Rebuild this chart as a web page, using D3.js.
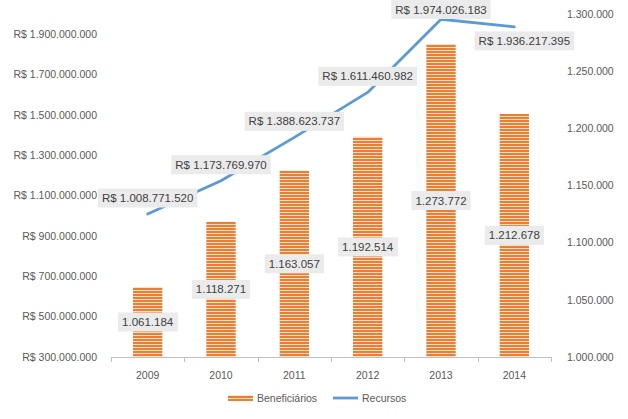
<!DOCTYPE html>
<html><head><meta charset="utf-8">
<script src="https://cdn.jsdelivr.net/npm/d3@7"></script>
<style>body{margin:0;background:#fff}svg{display:block}text{font-family:"Liberation Sans",Arial,sans-serif}</style>
</head><body><svg id="c" width="628" height="419"></svg>
<script>
const years = ["2009","2010","2011","2012","2013","2014"];
const beneficiarios = [1061184, 1118271, 1163057, 1192514, 1273772, 1212678];
const recursos = [1008771520, 1173769970, 1388623737, 1611460982, 1974026183, 1936217395];
const leftTicks = [300000000,500000000,700000000,900000000,1100000000,1300000000,1500000000,1700000000,1900000000];
const rightTicks = [1000000,1050000,1100000,1150000,1200000,1250000,1300000];
const seriesNames = ["Beneficiários","Recursos"];

const svg = d3.select("#c");
const W=628,H=419, L=111, R=551, T=14, B=357;
const orange="#ED7D31", blue="#5B9BD5", txt="#595959";
const fmt = v => d3.format(",")(v).replace(/,/g,".");

const defs = svg.append("defs");
const pat = defs.append("pattern").attr("id","stripes").attr("patternUnits","userSpaceOnUse").attr("width",4).attr("height",3);
pat.append("rect").attr("width",4).attr("height",3).attr("fill","#fbe0cc");
pat.append("rect").attr("width",4).attr("height",2).attr("fill",orange);

const x = d3.scaleBand().domain(years).range([L,R]).paddingInner(0.6).paddingOuter(0.3);
const yL = d3.scaleLinear().domain([300000000,2000000000]).range([B,T]);
const yR = d3.scaleLinear().domain([1000000,1300000]).range([B,T]);

// left axis labels
svg.append("g").selectAll("text").data(leftTicks).join("text")
  .attr("x",97).attr("y",d=>yL(d)).attr("dy","0.35em").attr("text-anchor","end")
  .attr("font-size",10.5).attr("fill",txt).text(d=>"R$ "+fmt(d));
// right axis labels
svg.append("g").selectAll("text").data(rightTicks).join("text")
  .attr("x",567).attr("y",d=>yR(d)).attr("dy","0.35em").attr("text-anchor","start")
  .attr("font-size",10.5).attr("fill",txt).text(d=>fmt(d));

// bars
svg.append("g").selectAll("rect").data(beneficiarios).join("rect")
  .attr("x",(d,i)=>x(years[i])).attr("width",x.bandwidth())
  .attr("y",d=>yR(d)).attr("height",d=>B-yR(d)).attr("fill","url(#stripes)");

// x axis
const step = x.step();
const xa = svg.append("g");
xa.append("line").attr("x1",L).attr("x2",R).attr("y1",B+0.5).attr("y2",B+0.5).attr("stroke","#bfbfbf");
const bounds = years.map((y,i)=>x(y)-x.paddingInner()*step/2 - (i===0? (x.paddingOuter()*step - x.paddingInner()*step/2):0));
const bnds = years.map(y=>x(y)+x.bandwidth()/2-step/2).concat([x(years[years.length-1])+x.bandwidth()/2+step/2]);
xa.selectAll("line.t").data(bnds).join("line").attr("class","t")
  .attr("x1",d=>Math.round(d)+0.5).attr("x2",d=>Math.round(d)+0.5).attr("y1",B).attr("y2",B+5).attr("stroke","#bfbfbf");
xa.selectAll("text").data(years).join("text")
  .attr("x",d=>x(d)+x.bandwidth()/2).attr("y",B+22).attr("text-anchor","middle")
  .attr("font-size",10.5).attr("fill",txt).text(d=>d);

// line
const cx = i => x(years[i])+x.bandwidth()/2;
svg.append("path").datum(recursos)
  .attr("d",d3.line().x((d,i)=>cx(i)).y(d=>yL(d)))
  .attr("fill","none").attr("stroke",blue).attr("stroke-width",2.8).attr("stroke-linejoin","round").attr("stroke-linecap","round");

function label(g, cxp, cyp, s){
  const t = g.append("text").attr("x",cxp).attr("y",cyp).attr("dy","0.35em").attr("text-anchor","middle")
    .attr("font-size",11.5).attr("fill","#404040").text(s);
  const bb = t.node().getBBox();
  g.insert("rect","text").attr("x",bb.x-4).attr("y",cyp-9.5).attr("width",bb.width+8).attr("height",19).attr("fill","#ebebeb");
  t.raise();
}
// bar labels
beneficiarios.forEach((d,i)=>{
  const g = svg.append("g");
  label(g, cx(i), (yR(d)+B)/2, fmt(d));
});
// line labels
recursos.forEach((d,i)=>{
  const g = svg.append("g");
  let lx = cx(i), ly = yL(d)-16;
  if(i===recursos.length-1){ lx = cx(i)+10; ly = yL(d)+14; }
  ly = Math.max(ly, 9.5);
  label(g, lx, ly, "R$ "+fmt(d));
});

// legend
const lg = svg.append("g");
lg.append("rect").attr("x",228).attr("y",395).attr("width",25).attr("height",6).attr("fill","url(#stripes)");
lg.append("text").attr("x",257).attr("y",398).attr("dy","0.35em").attr("font-size",10.5).attr("fill",txt).text(seriesNames[0]);
lg.append("line").attr("x1",333).attr("x2",358).attr("y1",398).attr("y2",398).attr("stroke",blue).attr("stroke-width",2.8);
lg.append("text").attr("x",362).attr("y",398).attr("dy","0.35em").attr("font-size",10.5).attr("fill",txt).text(seriesNames[1]);
</script></body></html>
